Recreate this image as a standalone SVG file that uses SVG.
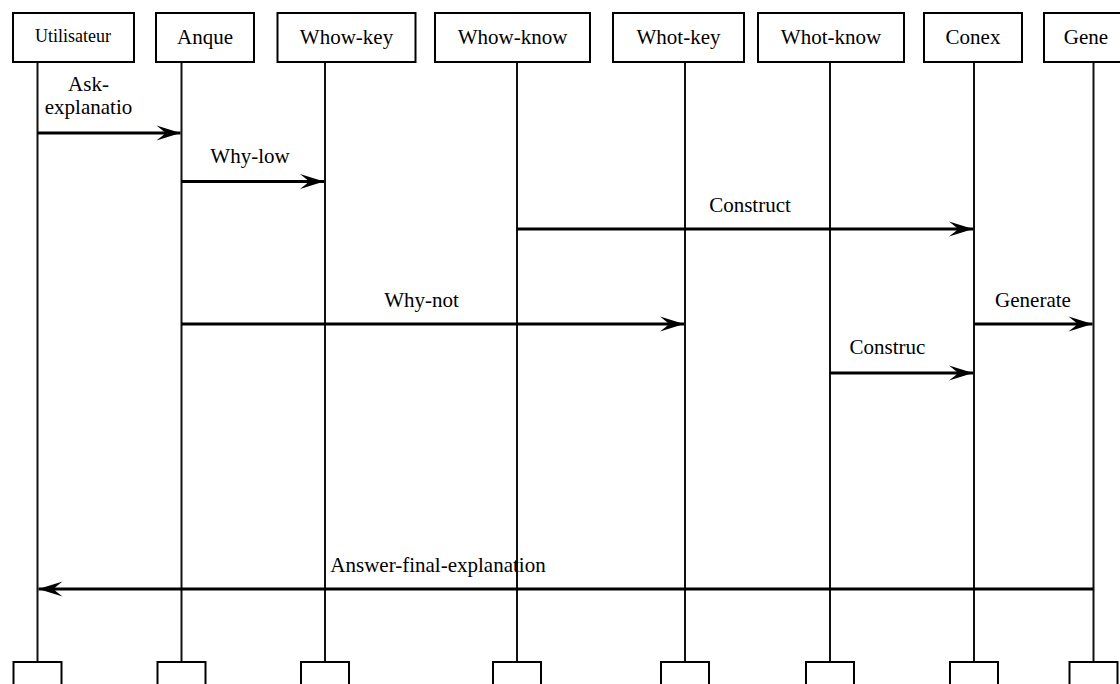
<svg xmlns="http://www.w3.org/2000/svg" width="1120" height="684" viewBox="0 0 1120 684">
  <style>
    .box { fill: #fff; stroke: #000; stroke-width: 2; }
    .life { stroke: #111; stroke-width: 2; fill: none; }
    .msg { stroke: #000; stroke-width: 2.8; fill: none; }
    .lbl { font-family: "Liberation Serif", "Times New Roman", serif; font-size: 21px; fill: #000; text-anchor: middle; }
    .small { font-size: 18px; }
  </style>
  <defs>
    <marker id="head" viewBox="-25 -8 26 16" refX="0" refY="0" markerWidth="26" markerHeight="16" markerUnits="userSpaceOnUse" orient="auto">
      <path d="M0,0 L-24,-7.5 Q-17,-2 -15,0 Q-17,2 -24,7.5 Z" fill="#000"/>
    </marker>
  </defs>
  <rect width="1120" height="684" fill="#fff"/>

  <!-- lifelines -->
  <g id="lifelines">
    <line class="life" x1="37.5" y1="62" x2="37.5" y2="662"/>
    <line class="life" x1="181.5" y1="62" x2="181.5" y2="662"/>
    <line class="life" x1="325" y1="62" x2="325" y2="662"/>
    <line class="life" x1="517" y1="62" x2="517" y2="662"/>
    <line class="life" x1="685" y1="62" x2="685" y2="662"/>
    <line class="life" x1="830" y1="62" x2="830" y2="662"/>
    <line class="life" x1="974" y1="62" x2="974" y2="662"/>
    <line class="life" x1="1093.5" y1="62" x2="1093.5" y2="662"/>
  </g>

  <!-- participants -->
  <g id="utilisateur">
    <rect class="box" x="13" y="13" width="121" height="49"/>
    <text class="lbl small" x="73" y="41.5">Utilisateur</text>
    <rect class="box" x="13.5" y="662" width="48" height="40"/>
  </g>
  <g id="anque">
    <rect class="box" x="156" y="13" width="98" height="49"/>
    <text class="lbl" x="205" y="44">Anque</text>
    <rect class="box" x="157.5" y="662" width="48" height="40"/>
  </g>
  <g id="whow-key">
    <rect class="box" x="277.5" y="13" width="138" height="49"/>
    <text class="lbl" x="346.5" y="44">Whow-key</text>
    <rect class="box" x="301" y="662" width="48" height="40"/>
  </g>
  <g id="whow-know">
    <rect class="box" x="435" y="13" width="155" height="49"/>
    <text class="lbl" x="512.5" y="44">Whow-know</text>
    <rect class="box" x="493" y="662" width="48" height="40"/>
  </g>
  <g id="whot-key">
    <rect class="box" x="613" y="13" width="131" height="49"/>
    <text class="lbl" x="678.5" y="44">Whot-key</text>
    <rect class="box" x="661" y="662" width="48" height="40"/>
  </g>
  <g id="whot-know">
    <rect class="box" x="758" y="13" width="146" height="49"/>
    <text class="lbl" x="831" y="44">Whot-know</text>
    <rect class="box" x="806" y="662" width="48" height="40"/>
  </g>
  <g id="conex">
    <rect class="box" x="924" y="13" width="98" height="49"/>
    <text class="lbl" x="973" y="44">Conex</text>
    <rect class="box" x="950" y="662" width="48" height="40"/>
  </g>
  <g id="gene">
    <rect class="box" x="1044" y="13" width="86" height="49"/>
    <text class="lbl" x="1086" y="44">Gene</text>
    <rect class="box" x="1069.5" y="662" width="48" height="40"/>
  </g>

  <!-- messages -->
  <g id="connectors">
    <line class="msg" x1="37.5" y1="133" x2="180.5" y2="133" marker-end="url(#head)"/>
    <line class="msg" x1="181.5" y1="181.5" x2="324" y2="181.5" marker-end="url(#head)"/>
    <line class="msg" x1="517" y1="229" x2="973" y2="229" marker-end="url(#head)"/>
    <line class="msg" x1="181.5" y1="324" x2="684" y2="324" marker-end="url(#head)"/>
    <line class="msg" x1="974" y1="324" x2="1092.5" y2="324" marker-end="url(#head)"/>
    <line class="msg" x1="830" y1="373" x2="973" y2="373" marker-end="url(#head)"/>
    <line class="msg" x1="1093.5" y1="589" x2="38.5" y2="589" marker-end="url(#head)"/>

    <text class="lbl" x="88.5" y="90.5">Ask-</text>
    <text class="lbl" x="88.5" y="114">explanatio</text>
    <text class="lbl" x="250" y="163">Why-low</text>
    <text class="lbl" x="750" y="211.5">Construct</text>
    <text class="lbl" x="421.5" y="306.5">Why-not</text>
    <text class="lbl" x="1033" y="306.5">Generate</text>
    <text class="lbl" x="887.5" y="354">Construc</text>
    <text class="lbl" x="438" y="572">Answer-final-explanation</text>
  </g>
</svg>
